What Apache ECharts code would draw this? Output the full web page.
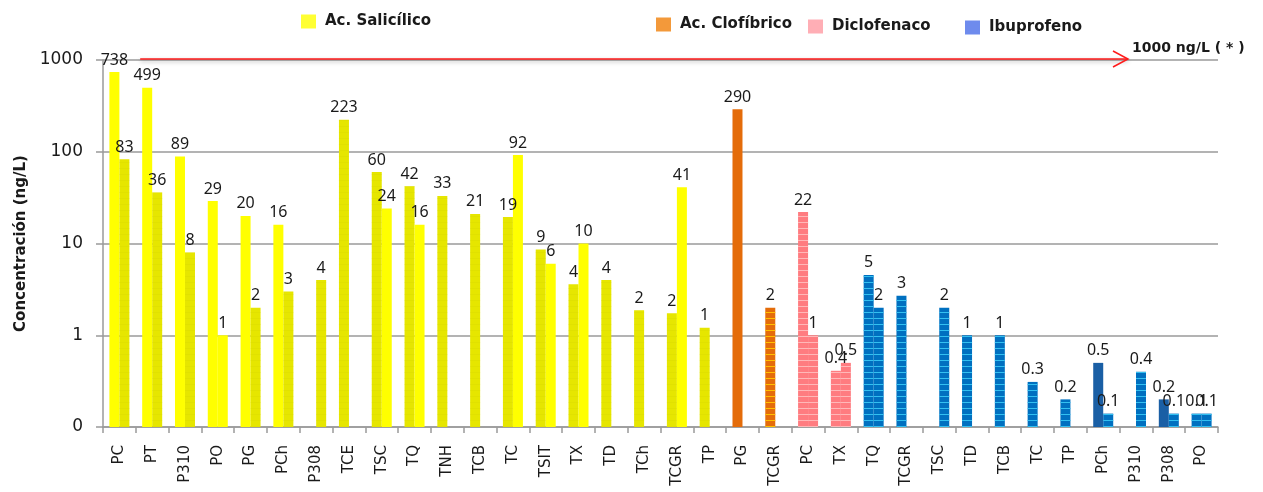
<!DOCTYPE html>
<html>
<head>
    <meta charset="utf-8">
    <script src="https://cdn.jsdelivr.net/npm/echarts@6/dist/echarts.min.js"></script>
</head>
<body style="margin:0;background:#fff;">
    <div id="chart" style="width:1263px;height:492px;"></div>
    <script type="text/javascript">
        // categorias (puntos de muestreo) por grupo de farmaco
        var categories = ['PC','PT','P310','PO','PG','PCh','P308','TCE','TSC','TQ','TNH','TCB','TC','TSIT','TX','TD','TCh','TCGR','TP',
                          'PG','TCGR',
                          'PC','TX',
                          'TQ','TCGR','TSC','TD','TCB','TC','TP','PCh','P310','P308','PO'];
        var groupNames = ['Ac. Salicílico','Ac. Clofíbrico','Diclofenaco','Ibuprofeno'];
        var groupCounts = [19, 2, 2, 11];
        // concentraciones (ng/L), barra izquierda y derecha de cada categoria
        var leftValues = [738,499,89,29,20,16,null,223,60,42,33,21,19.4,8.6,3.6,4,1.87,1.74,1.21,
                          290,2.0,
                          22,0.41,
                          4.55,2.7,null,1,1,0.31,0.2,0.5,null,0.2,0.14];
        var rightValues = [83,36,8,1,2,3,4,null,24,16,null,null,92,6,10,null,null,41,null,
                           null,null,
                           1,0.5,
                           2,null,2,null,null,null,null,0.14,0.4,0.14,0.14];
        var yTicks = [0.1, 1, 10, 100, 1000];
        var limitValue = 1000;

        // estilos de cada barra
        var leftStyle = ['Y','Y','Y','Y','Y','Y','-','O','O','O','O','O','O','O','O','O','O','O','O',
                         'C1','C2','D','D','I','I','-','I','I','I','I','I2','-','I2','I'];
        var rightStyle = ['O','O','O','Y','O','O','O','-','Y','Y','-','-','Y','Y','Y','-','-','Y','-',
                          '-','-','D','D','I','-','I','-','-','-','-','I','I','I','I'];
        var groupColors = ['#ffff00','#f07f09','#ff9aa2','#4a6ee8'];

        function stripes(c) {
            return { symbol: 'rect', symbolSize: 1, dashArrayX: [1, 0], dashArrayY: [1, 5], color: c };
        }
        var noDecal = { symbol: 'rect', symbolSize: 1, dashArrayX: [1, 0], dashArrayY: [1, 5], color: 'rgba(0,0,0,0)' };
        var styles = {
            'Y':  { color: '#ffff00', decal: noDecal },
            'O':  { color: '#e6e600', decal: stripes('rgba(215,215,0,0.35)') },
            'C1': { color: '#e46c0a', decal: noDecal },
            'C2': { color: '#e46c0a', decal: stripes('#ffc000') },
            'D':  { color: '#ff7c80', decal: stripes('#ffb8b8') },
            'I':  { color: '#0070c0', decal: stripes('#33c0f0') },
            'I2': { color: '#1a5fa5', decal: noDecal }
        };

        function fmt(v) {
            if (v >= 1) return String(Math.round(v));
            return v.toFixed(1);
        }

        function buildData(values, st) {
            return values.map(function (v, i) {
                if (v == null) return null;
                return { value: v, itemStyle: styles[st[i]] };
            });
        }

        var labelStyle = {
            show: true, position: 'top', distance: 4,
            fontFamily: 'Noto Sans', fontSize: 16, color: '#1a1a1a',
            formatter: function (p) { return fmt(p.value); }
        };

        var series = [
            { name: 'izq', type: 'bar', barWidth: 10, barGap: '0%', data: buildData(leftValues, leftStyle), label: labelStyle },
            { name: 'der', type: 'bar', barWidth: 10, barGap: '0%', data: buildData(rightValues, rightStyle), label: labelStyle }
        ];
        // series vacias para la leyenda
        groupNames.forEach(function (g, i) {
            series.push({ name: g, type: 'scatter', data: [], itemStyle: { color: groupColors[i], decal: noDecal } });
        });

        var legendPos = [[296, 9], [651, 12], [803, 14], [960, 15]];
        var legends = groupNames.map(function (g, i) {
            return {
                data: [g], left: legendPos[i][0], top: legendPos[i][1],
                icon: 'rect', itemWidth: 15, itemHeight: 14,
                textStyle: { fontFamily: 'DejaVu Sans', fontWeight: 'bold', fontSize: 15, color: '#1a1a1a', padding: [0, 0, 0, 4] },
                selectedMode: false
            };
        });

        var myChart = echarts.init(document.getElementById('chart'));
        var option = {
            animation: false,
            aria: { enabled: true, decal: { show: true } },
            legend: legends,
            grid: { left: 103, right: 45, top: 60, bottom: 65, containLabel: false },
            xAxis: {
                type: 'category', data: categories,
                axisLine: { lineStyle: { color: '#9a9a9a', width: 1.5 } },
                axisTick: { show: true, interval: 0, length: 6, lineStyle: { color: '#9a9a9a', width: 1.5 } },
                axisLabel: { interval: 0, rotate: 90, margin: 18, fontFamily: 'DejaVu Sans', fontSize: 15, color: '#1a1a1a' }
            },
            yAxis: {
                type: 'log', logBase: 10, min: yTicks[0], max: yTicks[yTicks.length - 1], startValue: yTicks[0],
                name: 'Concentración (ng/L)', nameLocation: 'middle', nameGap: 74,
                nameTextStyle: { fontFamily: 'DejaVu Sans', fontWeight: 'bold', fontSize: 15, color: '#1a1a1a' },
                axisLine: { show: true, lineStyle: { color: '#9a9a9a', width: 1.5 } },
                axisTick: { show: true, length: 7, lineStyle: { color: '#9a9a9a', width: 1.5 } },
                axisLabel: { margin: 20, fontFamily: 'DejaVu Sans', fontSize: 17, color: '#1a1a1a',
                             formatter: function (v) { return v < 1 ? '0' : String(v); } },
                splitLine: { show: true, lineStyle: { color: '#9a9a9a', width: 1.5 } }
            },
            series: series
        };
        myChart.setOption(option);

        // flecha roja del limite 1000 ng/L
        var yLim = myChart.convertToPixel({ yAxisIndex: 0 }, limitValue);
        var xStart = myChart.convertToPixel({ xAxisIndex: 0 }, 1) - 12;
        var xEnd = 1263 - 45 - 90;
        myChart.setOption({
            graphic: [
                { type: 'line', z: 100, shape: { x1: xStart, y1: yLim - 1, x2: xEnd, y2: yLim - 1 },
                  style: { stroke: '#ff1a1a', lineWidth: 1.5, shadowBlur: 4, shadowColor: 'rgba(0,0,0,0.35)', shadowOffsetY: 2 } },
                { type: 'polyline', z: 100, shape: { points: [[xEnd - 15, yLim - 9], [xEnd, yLim - 1], [xEnd - 15, yLim + 7]] },
                  style: { stroke: '#ff1a1a', lineWidth: 1.5, fill: null } },
                { type: 'text', z: 100, left: 1132, top: yLim - 19,
                  style: { text: '1000 ng/L ( * )', fontFamily: 'DejaVu Sans', fontWeight: 'bold', fontSize: 14, fill: '#1a1a1a' } }
            ]
        });
    </script>
</body>
</html>
